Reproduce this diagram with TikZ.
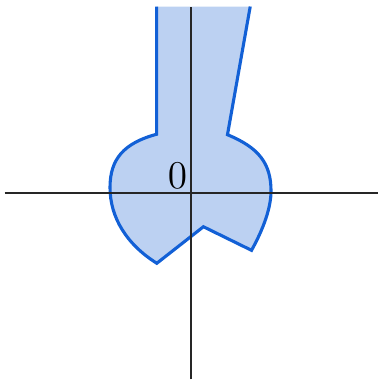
\documentclass[tikz,border=0pt]{standalone}
\usepackage{amsmath}
\usepackage{tikz}
\usetikzlibrary{positioning, arrows.meta, calc}
\usepackage{xcolor}
\definecolor{regionfill}{RGB}{188,209,242}
\definecolor{regionline}{RGB}{18,96,214}

\begin{document}
\begin{tikzpicture}[line width=0.45pt,
                    region/.style={regionline, line width=0.95pt, line join=miter}]

    \useasboundingbox (-2.05,-2.006) rectangle (2.017,2.07);

    % ---------- outline of the region (open at the top) ----------
    \def\outline{(-0.37,2) -- (-0.37,0.63)
      .. controls (-0.72,0.536) and (-0.87,0.365) .. (-0.87,0.06)
      .. controls (-0.87,-0.265) and (-0.69,-0.552) .. (-0.368,-0.754)
      -- (0.132,-0.362) -- (0.648,-0.615)
      .. controls (0.784,-0.37) and (0.857,-0.148) .. (0.857,0.02)
      .. controls (0.857,0.317) and (0.726,0.487) .. (0.39,0.625)
      -- (0.634,2)}

    % ---------- filled region ----------
    \fill[regionfill] \outline -- cycle;
    \draw[region] \outline;

    % ---------- axes ----------
    \draw[black!85] (-2,0) -- (2,0);
    \draw[black!85] (0,-2) -- (0,2);

    % ---------- origin label ----------
    \node[above left, inner sep=1pt, font=\large] (zero) at (0,0) {$0$};

  \end{tikzpicture}
\end{document}
